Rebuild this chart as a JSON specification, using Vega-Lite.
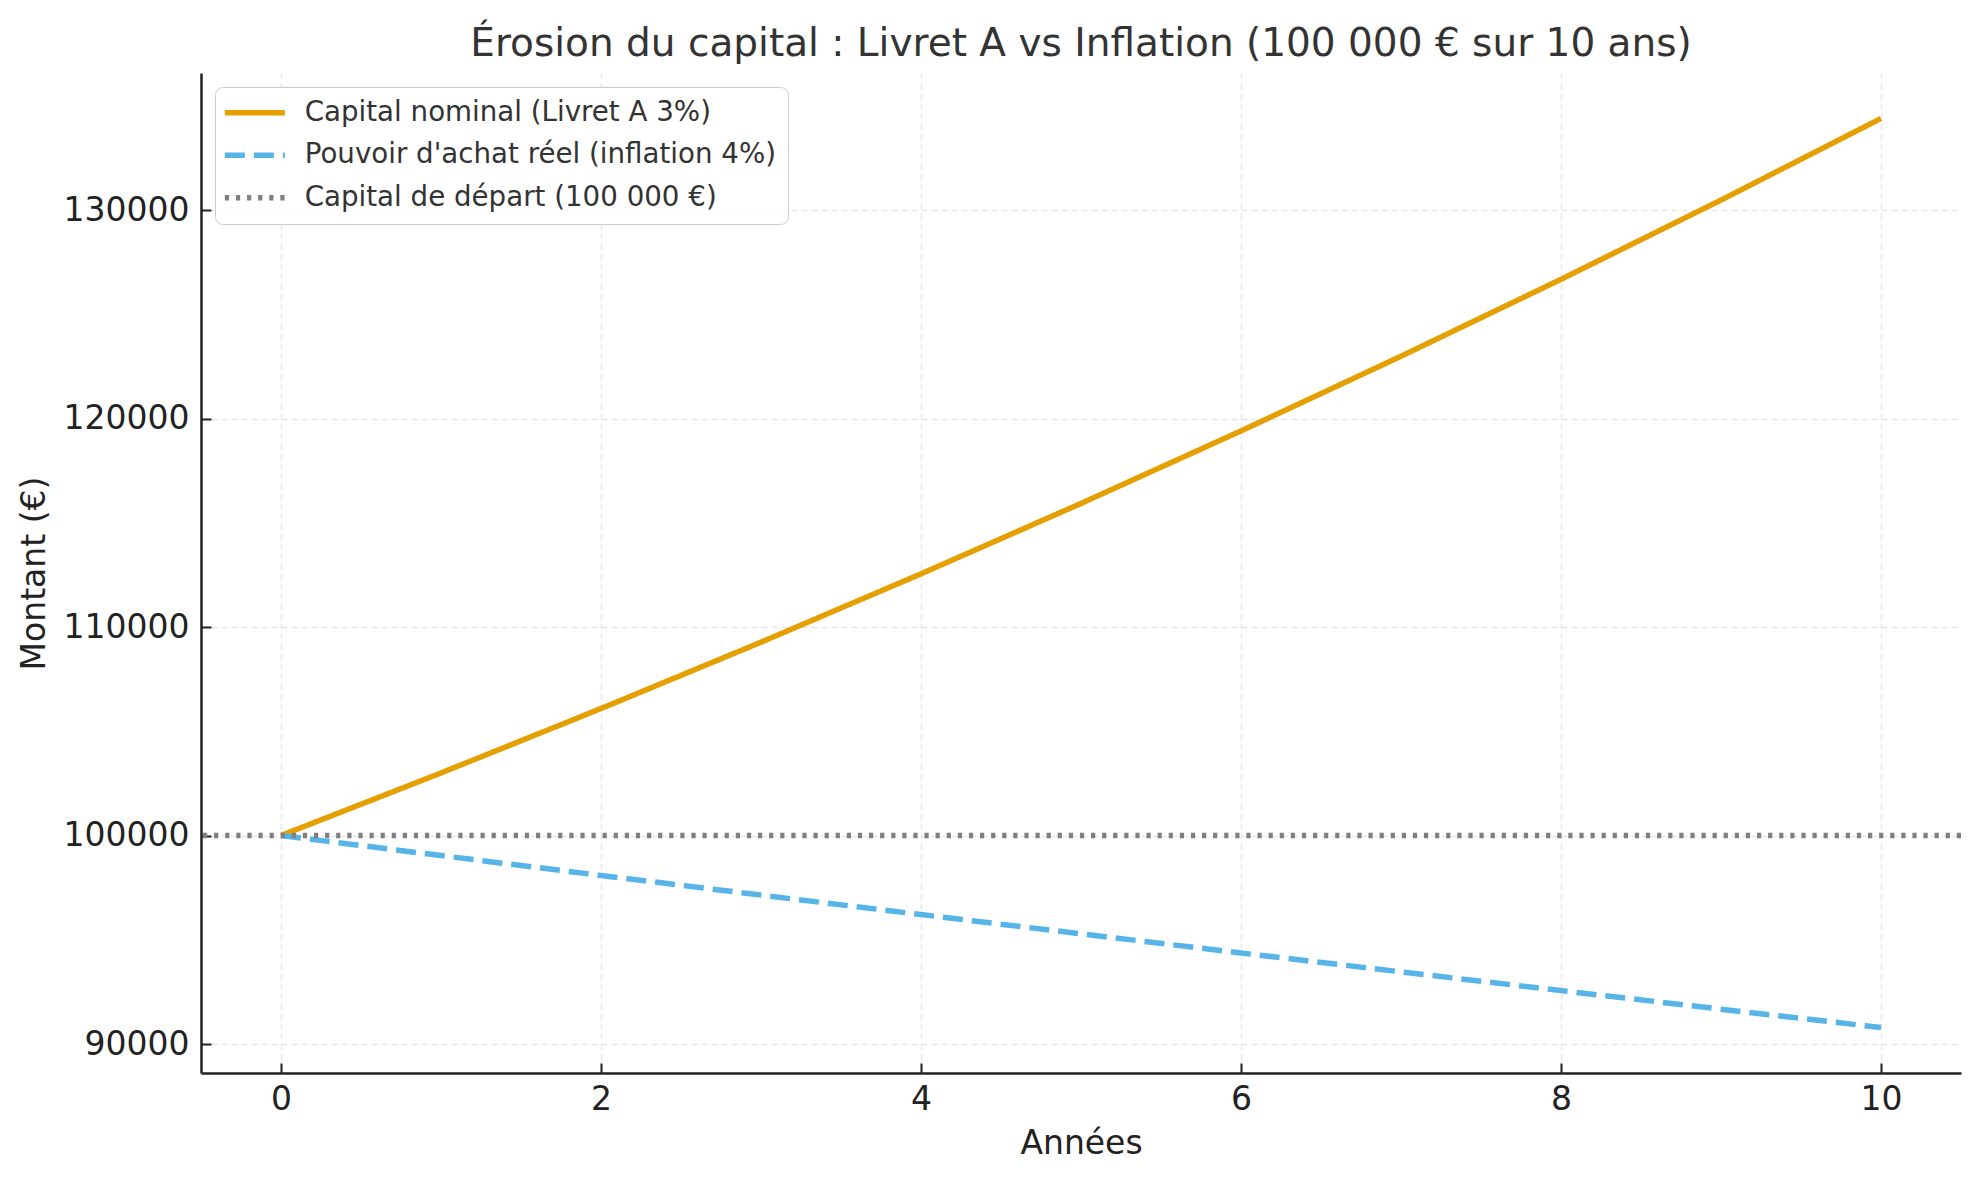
{
  "$schema": "https://vega.github.io/schema/vega-lite/v6.json",
  "width": 1760,
  "height": 1000,
  "autosize": {"type": "none"},
  "padding": {"left": 201, "top": 73, "right": 18, "bottom": 107},
  "background": "white",
  "config": {"view": {"stroke": null}, "font": "DejaVu Sans"},
  "title": {
    "text": "Érosion du capital : Livret A vs Inflation (100 000 € sur 10 ans)",
    "fontSize": 39,
    "font": "DejaVu Sans",
    "fontWeight": "normal",
    "color": "#333333",
    "anchor": "middle",
    "baseline": "alphabetic",
    "offset": 18,
    "dy": 40
  },
  "datasets": {
    "series": [
      {"annee": 0, "montant": 100000, "serie": "Capital nominal (Livret A 3%)"},
      {"annee": 1, "montant": 103000, "serie": "Capital nominal (Livret A 3%)"},
      {"annee": 2, "montant": 106090, "serie": "Capital nominal (Livret A 3%)"},
      {"annee": 3, "montant": 109272.7, "serie": "Capital nominal (Livret A 3%)"},
      {"annee": 4, "montant": 112550.9, "serie": "Capital nominal (Livret A 3%)"},
      {"annee": 5, "montant": 115927.4, "serie": "Capital nominal (Livret A 3%)"},
      {"annee": 6, "montant": 119405.2, "serie": "Capital nominal (Livret A 3%)"},
      {"annee": 7, "montant": 122987.4, "serie": "Capital nominal (Livret A 3%)"},
      {"annee": 8, "montant": 126677.0, "serie": "Capital nominal (Livret A 3%)"},
      {"annee": 9, "montant": 130477.3, "serie": "Capital nominal (Livret A 3%)"},
      {"annee": 10, "montant": 134391.6, "serie": "Capital nominal (Livret A 3%)"},
      {"annee": 0, "montant": 100000, "serie": "Pouvoir d'achat réel (inflation 4%)"},
      {"annee": 1, "montant": 99038.5, "serie": "Pouvoir d'achat réel (inflation 4%)"},
      {"annee": 2, "montant": 98086.2, "serie": "Pouvoir d'achat réel (inflation 4%)"},
      {"annee": 3, "montant": 97143.1, "serie": "Pouvoir d'achat réel (inflation 4%)"},
      {"annee": 4, "montant": 96209.1, "serie": "Pouvoir d'achat réel (inflation 4%)"},
      {"annee": 5, "montant": 95284.0, "serie": "Pouvoir d'achat réel (inflation 4%)"},
      {"annee": 6, "montant": 94367.8, "serie": "Pouvoir d'achat réel (inflation 4%)"},
      {"annee": 7, "montant": 93460.4, "serie": "Pouvoir d'achat réel (inflation 4%)"},
      {"annee": 8, "montant": 92561.8, "serie": "Pouvoir d'achat réel (inflation 4%)"},
      {"annee": 9, "montant": 91671.8, "serie": "Pouvoir d'achat réel (inflation 4%)"},
      {"annee": 10, "montant": 90790.3, "serie": "Pouvoir d'achat réel (inflation 4%)"}
    ],
    "depart": [
      {"montant": 100000, "serie": "Capital de départ (100 000 €)"}
    ]
  },
  "layer": [
    {
      "data": {"name": "series"},
      "mark": {"type": "line", "clip": true},
      "encoding": {
        "x": {
          "field": "annee",
          "type": "quantitative",
          "scale": {"domain": [-0.5, 10.5], "nice": false, "zero": false},
          "axis": {
            "values": [0, 2, 4, 6, 8, 10],
            "format": "d",
            "title": "Années",
            "titleFont": "DejaVu Sans",
            "titleFontSize": 33,
            "titleFontWeight": "normal",
            "titleColor": "#222222",
            "titleBaseline": "alphabetic",
            "titleY": 80,
            "labelFont": "DejaVu Sans",
            "labelFontSize": 33,
            "labelColor": "#222222",
            "labelPadding": 20,
            "domainColor": "#222222",
            "domainWidth": 2.5,
            "tickColor": "#222222",
            "tickWidth": 2,
            "tickSize": -10,
            "grid": true,
            "gridColor": "#e6e6e6",
            "gridDash": [6, 4],
            "gridWidth": 1.4
          }
        },
        "y": {
          "field": "montant",
          "type": "quantitative",
          "scale": {"domain": [88610, 136572], "nice": false, "zero": false},
          "axis": {
            "values": [90000, 100000, 110000, 120000, 130000],
            "format": "d",
            "title": "Montant (€)",
            "titleFont": "DejaVu Sans",
            "titleFontSize": 33,
            "titleFontWeight": "normal",
            "titleColor": "#222222",
            "titleX": -167,
            "titleY": 500,
            "titleBaseline": "middle",
            "labelFont": "DejaVu Sans",
            "labelFontSize": 33,
            "labelColor": "#222222",
            "labelPadding": 22,
            "domainColor": "#222222",
            "domainWidth": 2.5,
            "tickColor": "#222222",
            "tickWidth": 2,
            "tickSize": -10,
            "grid": true,
            "gridColor": "#e6e6e6",
            "gridDash": [6, 4],
            "gridWidth": 1.4
          }
        },
        "color": {
          "field": "serie",
          "type": "nominal",
          "scale": {
            "domain": ["Capital nominal (Livret A 3%)", "Pouvoir d'achat réel (inflation 4%)", "Capital de départ (100 000 €)"],
            "range": ["#E69F00", "#56B4E9", "#7f7f7f"]
          },
          "legend": {
            "title": null,
            "orient": "none",
            "legendX": 14,
            "legendY": 14,
            "fillColor": "rgba(255,255,255,0.85)",
            "strokeColor": "#cccccc",
            "cornerRadius": 8,
            "padding": 12,
            "labelFont": "DejaVu Sans",
            "labelFontSize": 27.7,
            "labelColor": "#333333",
            "labelLimit": 0,
            "symbolType": "M-3.047,0H8.381",
            "symbolSize": 110.25,
            "labelOffset": 50,
            "rowPadding": 13.4
          }
        },
        "strokeDash": {
          "field": "serie",
          "type": "nominal",
          "scale": {
            "domain": ["Capital nominal (Livret A 3%)", "Pouvoir d'achat réel (inflation 4%)", "Capital de départ (100 000 €)"],
            "range": [[1, 0], [20, 9], [4.2, 6.9]]
          },
          "legend": {"title": null}
        },
        "strokeWidth": {
          "field": "serie",
          "type": "ordinal",
          "scale": {
            "domain": ["Capital nominal (Livret A 3%)", "Pouvoir d'achat réel (inflation 4%)", "Capital de départ (100 000 €)"],
            "range": [5.5, 5.5, 4.2]
          },
          "legend": {"title": null}
        }
      }
    },
    {
      "data": {"name": "depart"},
      "mark": {"type": "rule"},
      "encoding": {
        "y": {"field": "montant", "type": "quantitative"},
        "color": {"field": "serie", "type": "nominal"},
        "strokeDash": {"field": "serie", "type": "nominal"},
        "strokeWidth": {"field": "serie", "type": "ordinal"}
      }
    }
  ]
}
